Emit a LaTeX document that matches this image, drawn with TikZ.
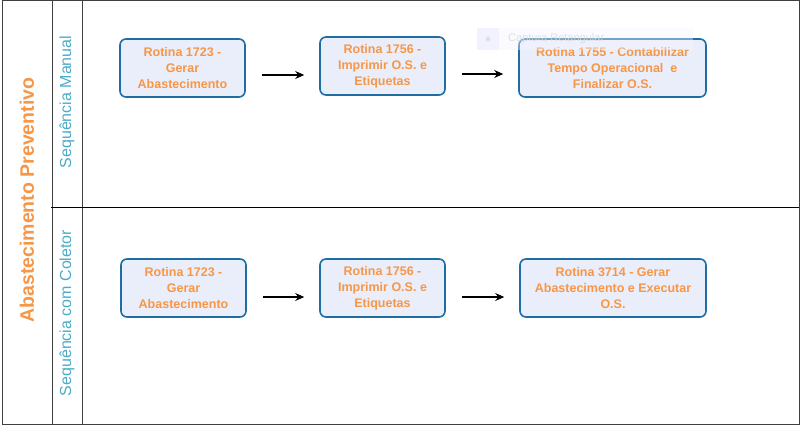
\documentclass[tikz,border=0pt]{standalone}
\usepackage{fontspec}
\setmainfont{Liberation Sans}
\usetikzlibrary{arrows.meta}
\definecolor{laranja}{HTML}{F79646}
\definecolor{turquesa}{HTML}{4BACC6}
\definecolor{borda}{HTML}{1F6DA3}
\definecolor{fundo}{HTML}{EAEEFB}

\begin{document}
\begin{tikzpicture}[x=1pt,y=-1pt,
rot/.style={draw=borda,fill=fundo,line width=1.6pt,rounded corners=6pt,minimum width=125pt,minimum height=58pt,inner sep=2pt,align=center,text=laranja,font=\bfseries\fontsize{12.5}{16}\selectfont},
seta/.style={-{Stealth[length=9pt,width=8pt]},line width=1.1pt,shorten <=16pt,shorten >=15pt},
raia/.style={rotate=90,text=turquesa,font=\fontsize{16}{18}\selectfont}]
\useasboundingbox (0,0) rectangle (802,426);
% moldura e raias
\draw[line width=1pt,black!75] (2,0.5) rectangle (799,424);
\draw[line width=1pt,black!75] (52,0)--(52,424) (82,0)--(82,424);\draw[line width=1pt] (51,207)--(799,207);
\node[rotate=90,text=laranja,font=\bfseries\fontsize{19.5}{22}\selectfont] (pool) at (27,200) {Abastecimento Preventivo};
\node[raia] (manual) at (67,102) {Sequência Manual};
\node[raia] (coletor) at (67,313) {Sequência com Coletor};
% sequencia manual
\node[rot] (m1) at (182.5,68) {Rotina 1723 -\\Gerar\\Abastecimento};
\node[rot] (m2) at (382.5,66) {Rotina 1756 -\\Imprimir O.S. e\\Etiquetas};
\node[rot,minimum width=187pt] (m3) at (612.5,68) {Rotina 1755 - Contabilizar\\Tempo Operacional~ e\\Finalizar O.S.};
\draw[seta] ([yshift=-7pt]m1.east) -- ([yshift=-7pt]m1.east -| m2.west);
\draw[seta] ([yshift=-8pt]m2.east) -- ([yshift=-8pt]m2.east -| m3.west);
% sequencia com coletor
\node[rot] (c1) at (183.5,288) {Rotina 1723 -\\Gerar\\Abastecimento};
\node[rot] (c2) at (382.5,288) {Rotina 1756 -\\Imprimir O.S. e\\Etiquetas};
\node[rot,minimum width=186pt] (c3) at (613,288) {Rotina 3714 - Gerar\\Abastecimento e Executar\\O.S.};
\draw[seta] ([yshift=-9pt]c1.east) -- ([yshift=-9pt]c1.east -| c2.west);
\draw[seta] ([yshift=-9pt]c2.east) -- ([yshift=-9pt]c2.east -| c3.west);
% dica da captura
\fill[blue!4,opacity=.4] (477,28) rectangle (693,50);\fill[blue!8,opacity=.5] (477,28) rectangle (499,50);
\fill[black!12] (488,39) circle[radius=2.5];
\node[anchor=west,text=black!15,font=\fontsize{11}{13}\selectfont,inner sep=0pt,opacity=.8] (dica) at (508,39) {Captura Retangular};
\end{tikzpicture}
\end{document}
